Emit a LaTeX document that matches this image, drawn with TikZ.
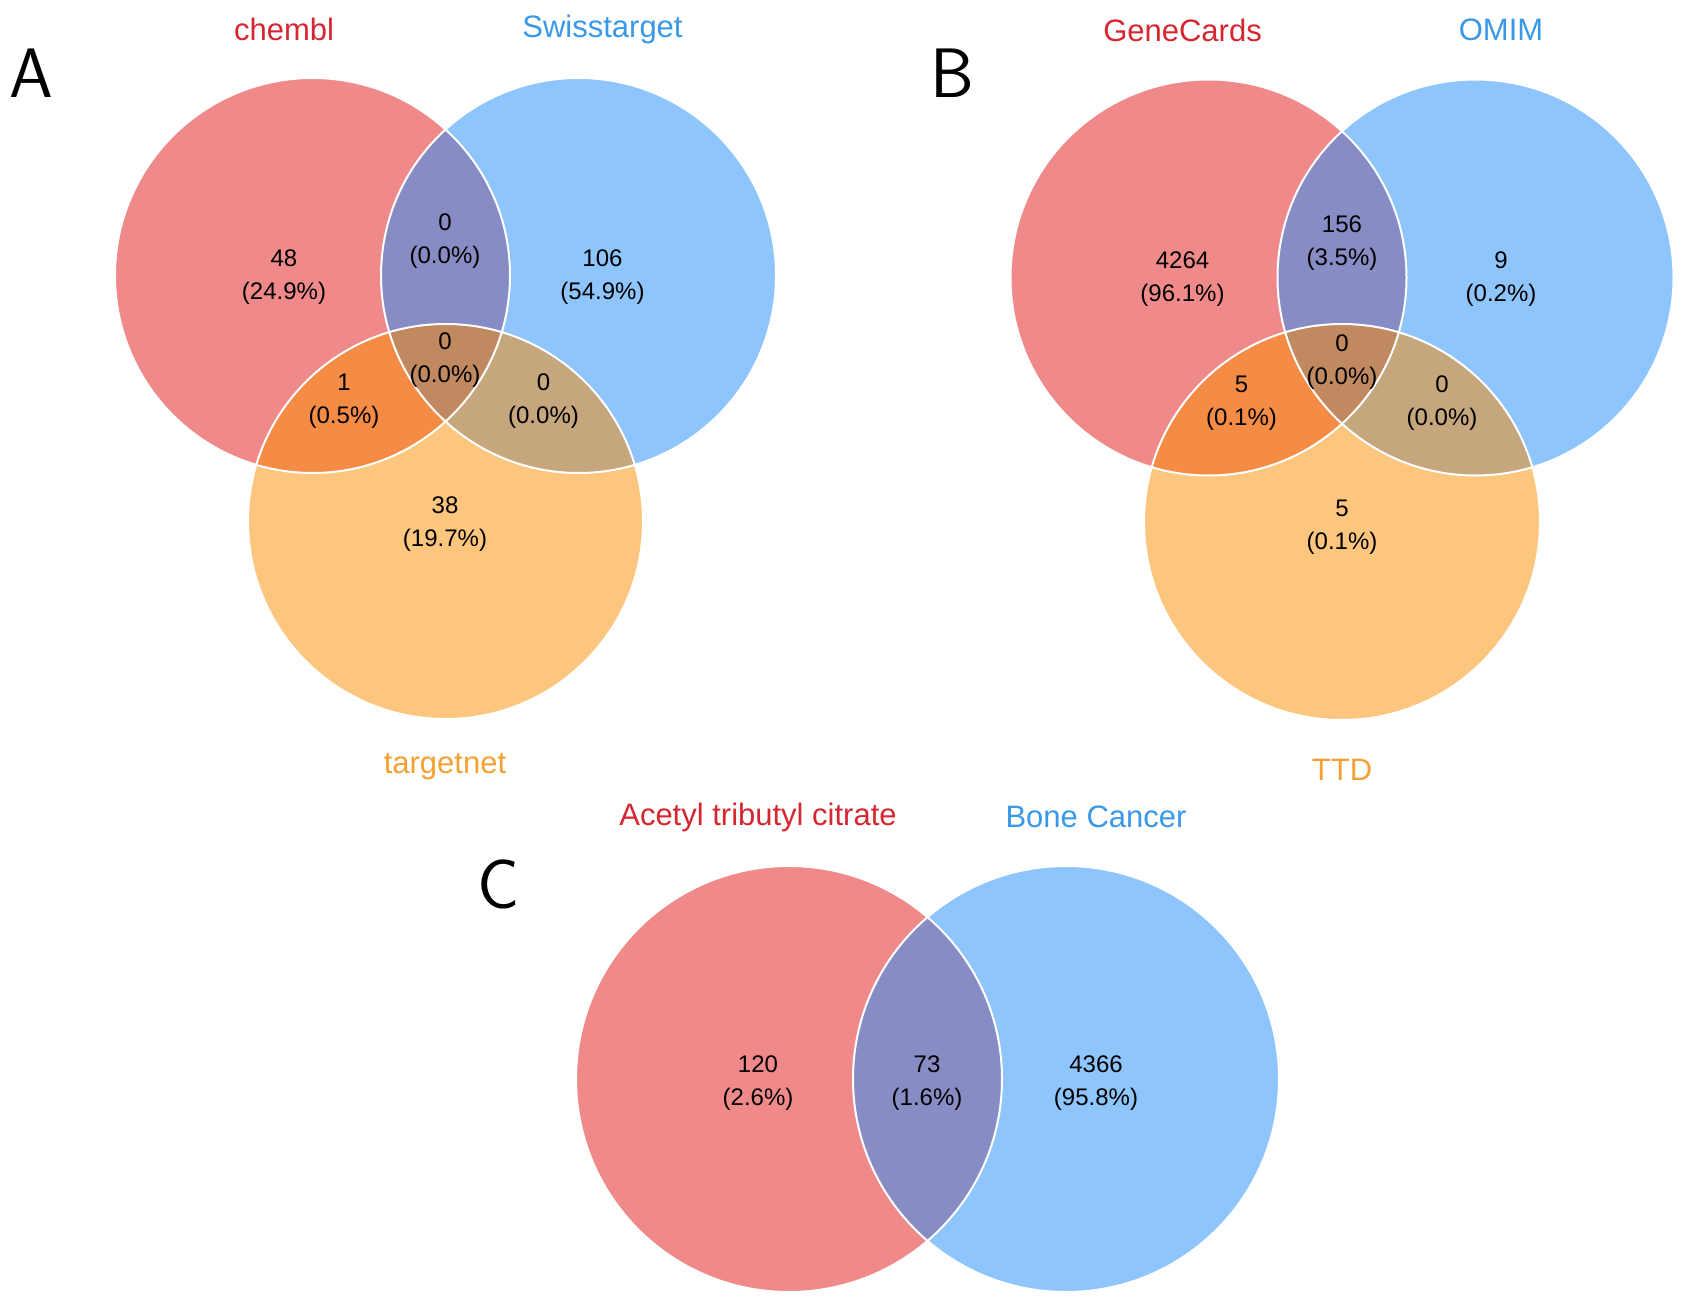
\documentclass[tikz,border=0pt]{standalone}
\usepackage{fontspec}
\setmainfont{Liberation Sans}
\usepackage{xcolor}
\usepackage{tikz}
\usetikzlibrary{positioning}
\definecolor{setRed}{RGB}{240,138,138}
\definecolor{setBlue}{RGB}{142,197,252}
\definecolor{setOrange}{RGB}{252,198,126}
\definecolor{setRB}{RGB}{136,140,196}
\definecolor{setRO}{RGB}{245,140,70}
\definecolor{setBO}{RGB}{198,166,125}
\definecolor{setAll}{RGB}{192,137,96}
\definecolor{labRed}{RGB}{214,38,48}
\definecolor{labBlue}{RGB}{58,152,232}
\definecolor{labOrange}{RGB}{245,160,50}
\tikzset{
    setlabel/.style={
        font=\fontsize{31}{36}\selectfont,
        inner sep=0pt
    },
    count/.style={
        font=\fontsize{24}{33}\selectfont,
        align=center,
        inner sep=0pt
    },
    panel/.style={
        font=\sffamily\fontsize{70}{76}\selectfont,
        inner sep=0pt
    },
    rim/.style={
        draw=white,
        line width=2pt
    }
}
% three overlapping sets: red, blue, orange centres + radius
\newcommand{\threeSets}[4]{%
    \fill[setRed] (#1) circle (#4);
    \fill[setBlue] (#2) circle (#4);
    \fill[setOrange] (#3) circle (#4);
    \begin{scope}
        \clip (#2) circle (#4);
        \fill[setBO] (#3) circle (#4);
    \end{scope}
    \begin{scope}
        \clip (#1) circle (#4);
        \fill[setRB] (#2) circle (#4);
        \fill[setRO] (#3) circle (#4);
        \clip (#2) circle (#4);
        \fill[setAll] (#3) circle (#4);
    \end{scope}
    \draw[rim] (#1) circle (#4) (#2) circle (#4) (#3) circle (#4);
}

\begin{document}
\begin{tikzpicture}[x=1pt, y=-1pt]
    \useasboundingbox (0,0) rectangle (1681,1297);

    % A
    \coordinate (ARed) at (312.5,275.5);
    \coordinate (ABlue) at (578.5,275.5);
    \coordinate (AOrange) at (445.5,521.5);
    \threeSets{ARed}{ABlue}{AOrange}{197.5}
    \node[panel] (PanelA) at (31,73) {A};
    \node[setlabel, labRed] (Chembl) at (284,29) {chembl};
    \node[setlabel, labBlue] (Swiss) at (602.5,29) {Swisstarget};
    \node[setlabel, labOrange] (Targetnet) at (445,766.5) {targetnet};
    \node[count] (AOnlyRed) at (284,277.5) {48\\(24.9\%)};
    \node[count] (ARedBlue) at (445,241) {0\\(0.0\%)};
    \node[count] (AOnlyBlue) at (602.5,277.5) {106\\(54.9\%)};
    \node[count] (ARedOrange) at (344,401) {1\\(0.5\%)};
    \node[count] (AAll) at (445,360) {0\\(0.0\%)};
    \node[count] (ABlueOrange) at (543.5,401) {0\\(0.0\%)};
    \node[count] (AOnlyOrange) at (445,524) {38\\(19.7\%)};

    % B
    \coordinate (BRed) at (1208.5,277.5);
    \coordinate (BBlue) at (1475.5,277.5);
    \coordinate (BOrange) at (1342,522);
    \threeSets{BRed}{BBlue}{BOrange}{198}
    \node[panel] (PanelB) at (952,73) {B};
    \node[setlabel, labRed] (GeneCards) at (1182.5,30) {GeneCards};
    \node[setlabel, labBlue] (Omim) at (1501,30) {OMIM};
    \node[setlabel, labOrange] (Ttd) at (1342,770) {TTD};
    \node[count] (BOnlyRed) at (1182.5,279.5) {4264\\(96.1\%)};
    \node[count] (BRedBlue) at (1342,243) {156\\(3.5\%)};
    \node[count] (BOnlyBlue) at (1501,279.5) {9\\(0.2\%)};
    \node[count] (BRedOrange) at (1241.5,403) {5\\(0.1\%)};
    \node[count] (BAll) at (1342,362) {0\\(0.0\%)};
    \node[count] (BBlueOrange) at (1442,403) {0\\(0.0\%)};
    \node[count] (BOnlyOrange) at (1342,527) {5\\(0.1\%)};

    % C
    \coordinate (CRed) at (789,1079);
    \coordinate (CBlue) at (1066,1079);
    \fill[setRed] (CRed) circle (213);
    \fill[setBlue] (CBlue) circle (213);
    \begin{scope}
        \clip (CRed) circle (213);
        \fill[setRB] (CBlue) circle (213);
    \end{scope}
    \draw[rim] (CRed) circle (213) (CBlue) circle (213);
    \node[panel] (PanelC) at (498.5,884) {C};
    \node[setlabel, labRed] (Citrate) at (758,817) {Acetyl tributyl citrate};
    \node[setlabel, labBlue] (BoneCancer) at (1096,817) {Bone Cancer};
    \node[count] (COnlyRed) at (758,1083) {120\\(2.6\%)};
    \node[count] (CBoth) at (927,1083) {73\\(1.6\%)};
    \node[count] (COnlyBlue) at (1096,1083) {4366\\(95.8\%)};
\end{tikzpicture}
\end{document}
